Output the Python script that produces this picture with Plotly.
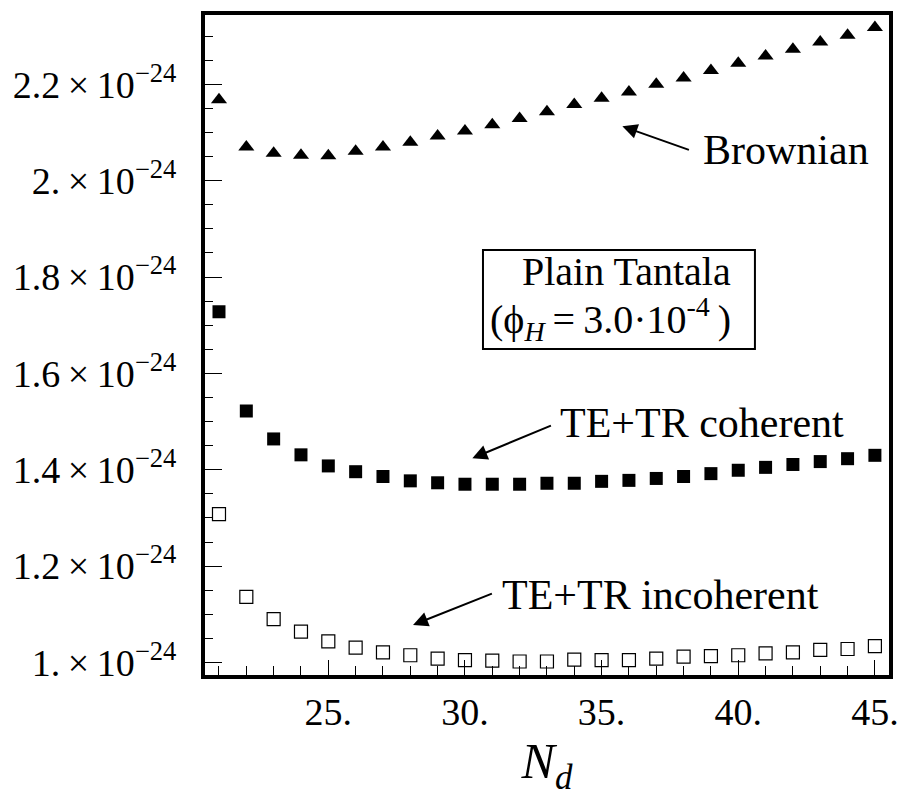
import plotly.graph_objects as go

# Data (values in units of 1e-24)
N_d = list(range(21, 46))
brownian = [2.168, 2.070, 2.057, 2.053, 2.052, 2.061, 2.070, 2.080, 2.093, 2.103,
            2.116, 2.129, 2.143, 2.158, 2.171, 2.184, 2.200, 2.213, 2.229, 2.244,
            2.259, 2.273, 2.288, 2.302, 2.318]
coherent = [1.728, 1.522, 1.464, 1.431, 1.408, 1.396, 1.386, 1.377, 1.373, 1.370,
            1.370, 1.370, 1.372, 1.372, 1.376, 1.378, 1.382, 1.386, 1.392, 1.399,
            1.405, 1.411, 1.417, 1.423, 1.430]
incoherent = [1.308, 1.136, 1.090, 1.064, 1.044, 1.031, 1.021, 1.015, 1.008, 1.005,
              1.004, 1.002, 1.002, 1.006, 1.005, 1.005, 1.008, 1.012, 1.013, 1.015,
              1.019, 1.021, 1.026, 1.028, 1.034]

y_tickvals = [1.0, 1.2, 1.4, 1.6, 1.8, 2.0, 2.2]
y_ticktext = ["1.\u2009×\u200910<sup>−24</sup>", "1.2\u2009×\u200910<sup>−24</sup>",
              "1.4\u2009×\u200910<sup>−24</sup>", "1.6\u2009×\u200910<sup>−24</sup>",
              "1.8\u2009×\u200910<sup>−24</sup>", "2.\u2009×\u200910<sup>−24</sup>",
              "2.2\u2009×\u200910<sup>−24</sup>"]
x_tickvals = [25, 30, 35, 40, 45]
x_ticktext = ["25.", "30.", "35.", "40.", "45."]

FONT = "Liberation Serif"

fig = go.Figure()
fig.add_trace(go.Scatter(x=N_d, y=brownian, mode="markers", name="Brownian",
                         marker=dict(symbol="triangle-up", size=14, color="black")))
fig.add_trace(go.Scatter(x=N_d, y=coherent, mode="markers", name="TE+TR coherent",
                         marker=dict(symbol="square", size=13, color="black")))
fig.add_trace(go.Scatter(x=N_d, y=incoherent, mode="markers", name="TE+TR incoherent",
                         marker=dict(symbol="square-open", size=13, color="black",
                                     line=dict(width=1.2))))

lab_font = dict(family=FONT, size=42, color="black")
box_font = dict(family=FONT, size=40, color="black")
arrow = dict(axref="x", ayref="y", xref="x", yref="y", text="", showarrow=True,
             arrowhead=2, arrowsize=1.5, arrowwidth=2, arrowcolor="black")
annotations = [
    # arrows
    dict(x=35.76, y=2.113, ax=38.25, ay=2.063, **arrow),
    dict(x=30.27, y=1.424, ax=33.2, ay=1.493, **arrow),
    dict(x=28.1, y=1.078, ax=31.04, ay=1.144, **arrow),
    # labels
    dict(x=38.62, y=2.063, xref="x", yref="y", text="Brownian", showarrow=False,
         xanchor="left", yanchor="middle", font=lab_font),
    dict(x=33.42, y=1.497, xref="x", yref="y", text="TE+TR coherent", showarrow=False,
         xanchor="left", yanchor="middle", font=lab_font),
    dict(x=31.3, y=1.140, xref="x", yref="y", text="TE+TR incoherent", showarrow=False,
         xanchor="left", yanchor="middle", font=lab_font),
    dict(x=0.772, y=0.612, xref="paper", yref="paper", text="Plain Tantala", showarrow=False,
         xanchor="right", yanchor="middle", font=box_font),
    dict(x=0.772, y=0.540, xref="paper", yref="paper",
         text="(ϕ<sub><i>H</i></sub>\u2009=\u20093.0·10<sup>-4</sup>\u2009)", showarrow=False,
         xanchor="right", yanchor="middle", font=box_font),
]

fig.update_layout(
    width=899, height=797,
    margin=dict(l=205, r=10, t=15, b=122),
    paper_bgcolor="white", plot_bgcolor="white",
    showlegend=False,
    font=dict(family=FONT, size=38, color="black"),
    annotations=annotations,
    shapes=[dict(type="rect", xref="paper", yref="paper", x0=0.4064, x1=0.804, y0=0.494, y1=0.644,
                 line=dict(color="black", width=2), fillcolor="rgba(0,0,0,0)")],
    xaxis=dict(range=[20.488, 45.516], showgrid=False, zeroline=False, automargin=False,
               showline=True, linewidth=4, linecolor="black", mirror=True,
               ticks="inside", ticklen=15, tickwidth=1, tickcolor="black",
               tickmode="array", tickvals=x_tickvals, ticktext=x_ticktext,
               minor=dict(dtick=1, tick0=0, ticks="inside", ticklen=9, tickwidth=1, tickcolor="black"),
               tickfont=dict(family=FONT, size=38),
               title=dict(text="<i>N</i><sub><i>d</i></sub>", font=dict(family=FONT, size=50), standoff=16)),
    yaxis=dict(range=[0.974, 2.344], showgrid=False, zeroline=False, automargin=False,
               showline=True, linewidth=4, linecolor="black", mirror=True,
               ticks="inside", ticklen=17, tickwidth=1, tickcolor="black",
               tickmode="array", tickvals=y_tickvals, ticktext=y_ticktext,
               minor=dict(dtick=0.05, tick0=0, ticks="inside", ticklen=8, tickwidth=1, tickcolor="black"),
               tickfont=dict(family=FONT, size=38), ticklabelstandoff=17),
)

fig.write_html("out.html")
